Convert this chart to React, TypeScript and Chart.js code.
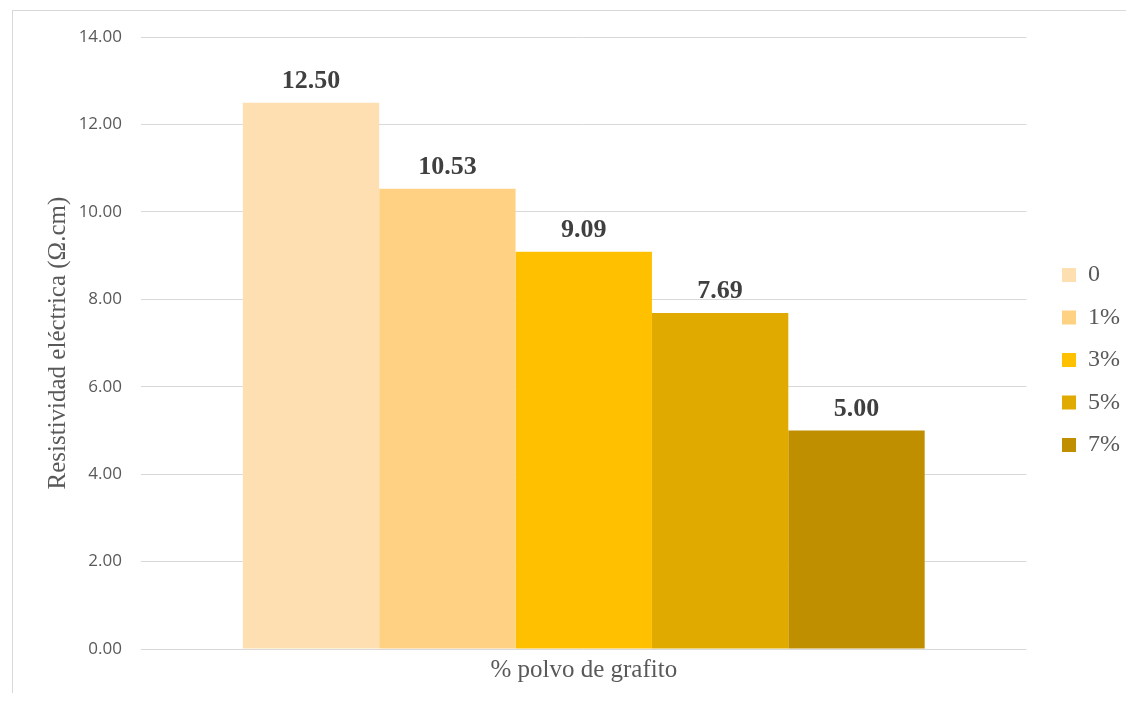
import { useEffect, useRef } from "react";
import { Chart, registerables } from "chart.js";

Chart.register(...registerables);

const categories = [""];
const seriesLabels = ["0", "1%", "3%", "5%", "7%"];
const seriesValues = [12.5, 10.53, 9.09, 7.69, 5.0];
const seriesColors = ["#FEDFB2", "#FFD183", "#FFC000", "#E1AA00", "#BF8F00"];
const yMin = 0;
const yMax = 14;
const yStep = 2;
const xTitle = "% polvo de grafito";
const yTitle = "Resistividad eléctrica (Ω.cm)";

const SERIF = "'Liberation Serif', 'Times New Roman', serif";
const SANS = "'Open Sans', 'Liberation Sans', sans-serif";
const LEGEND_EXTRA = 7;
const LEGEND_SHIFT = 17;

const borderPlugin = {
  id: "borderPlugin",
  beforeDraw(chart: any) {
    const ctx = chart.ctx;
    ctx.save();
    ctx.strokeStyle = "#d9d9d9";
    ctx.lineWidth = 1;
    ctx.strokeRect(4.5, 2.5, 3000, 3000);
    ctx.restore();
  },
};

const legendGapPlugin = {
  id: "legendGapPlugin",
  beforeLayout(chart: any) {
    const lg = chart.legend;
    if (lg && !lg._gapPatched) {
      const orig = lg.fit;
      lg.fit = function (this: any) {
        orig.call(this);
        this.width += LEGEND_EXTRA;
      };
      lg._gapPatched = true;
    }
  },
  afterLayout(chart: any) {
    const lg = chart.legend;
    if (lg) {
      lg.left += LEGEND_SHIFT;
    }
  },
};

const valueLabelPlugin = {
  id: "valueLabelPlugin",
  afterDatasetsDraw(chart: any) {
    const ctx = chart.ctx;
    ctx.save();
    ctx.font = `bold 26px ${SERIF}`;
    ctx.fillStyle = "#404040";
    ctx.textAlign = "center";
    ctx.textBaseline = "alphabetic";
    chart.data.datasets.forEach((ds: any, i: number) => {
      const meta = chart.getDatasetMeta(i);
      meta.data.forEach((el: any, j: number) => {
        const v = Number(ds.data[j]);
        ctx.fillText(v.toFixed(2), el.x, el.y - 15);
      });
    });
    ctx.restore();
  },
};

export default function App() {
  const ref = useRef<HTMLCanvasElement | null>(null);

  useEffect(() => {
    if (!ref.current) return;
    const chart = new Chart(ref.current, {
      type: "bar",
      data: {
        labels: categories,
        datasets: seriesLabels.map((label, i) => ({
          label,
          data: [seriesValues[i]],
          backgroundColor: seriesColors[i],
          borderWidth: 0,
          barPercentage: 1,
          categoryPercentage: 0.77,
        })),
      },
      options: {
        animation: false,
        responsive: false,
        devicePixelRatio: 1,
        events: [],
        layout: { padding: { top: 27, left: 4, right: 6, bottom: 8 } },
        plugins: {
          tooltip: { enabled: false },
          legend: {
            position: "right",
            align: "center",
            labels: {
              boxWidth: 14,
              boxHeight: 14,
              padding: 18.5,
              color: "#595959",
              font: { family: SERIF, size: 24 },
            },
          },
        },
        scales: {
          x: {
            ticks: { display: false },
            grid: { display: false, drawTicks: false },
            border: { display: false },
            title: {
              display: true,
              text: xTitle,
              color: "#595959",
              font: { family: SERIF, size: 25 },
              padding: { top: 6, bottom: 0 },
            },
            afterFit: (s: any) => {
              s.height = 36;
            },
          },
          y: {
            min: yMin,
            max: yMax,
            ticks: {
              stepSize: yStep,
              padding: 19,
              color: "#595959",
              font: { family: SANS, size: 17 },
              callback: (v: any) => Number(v).toFixed(2),
            },
            grid: { color: "#d9d9d9", lineWidth: 1, drawTicks: false },
            border: { display: false },
            title: {
              display: true,
              text: yTitle,
              color: "#595959",
              font: { family: SERIF, size: 25 },
              padding: { top: 31, bottom: 0 },
            },
            afterFit: (s: any) => {
              s.width = 129;
            },
          },
        },
      } as any,
      plugins: [borderPlugin, legendGapPlugin, valueLabelPlugin],
    });
    return () => chart.destroy();
  }, []);

  return (
    <canvas
      ref={ref}
      width={1118}
      height={685}
      style={{ display: "block", width: "1118px", height: "685px" }}
    />
  );
}
